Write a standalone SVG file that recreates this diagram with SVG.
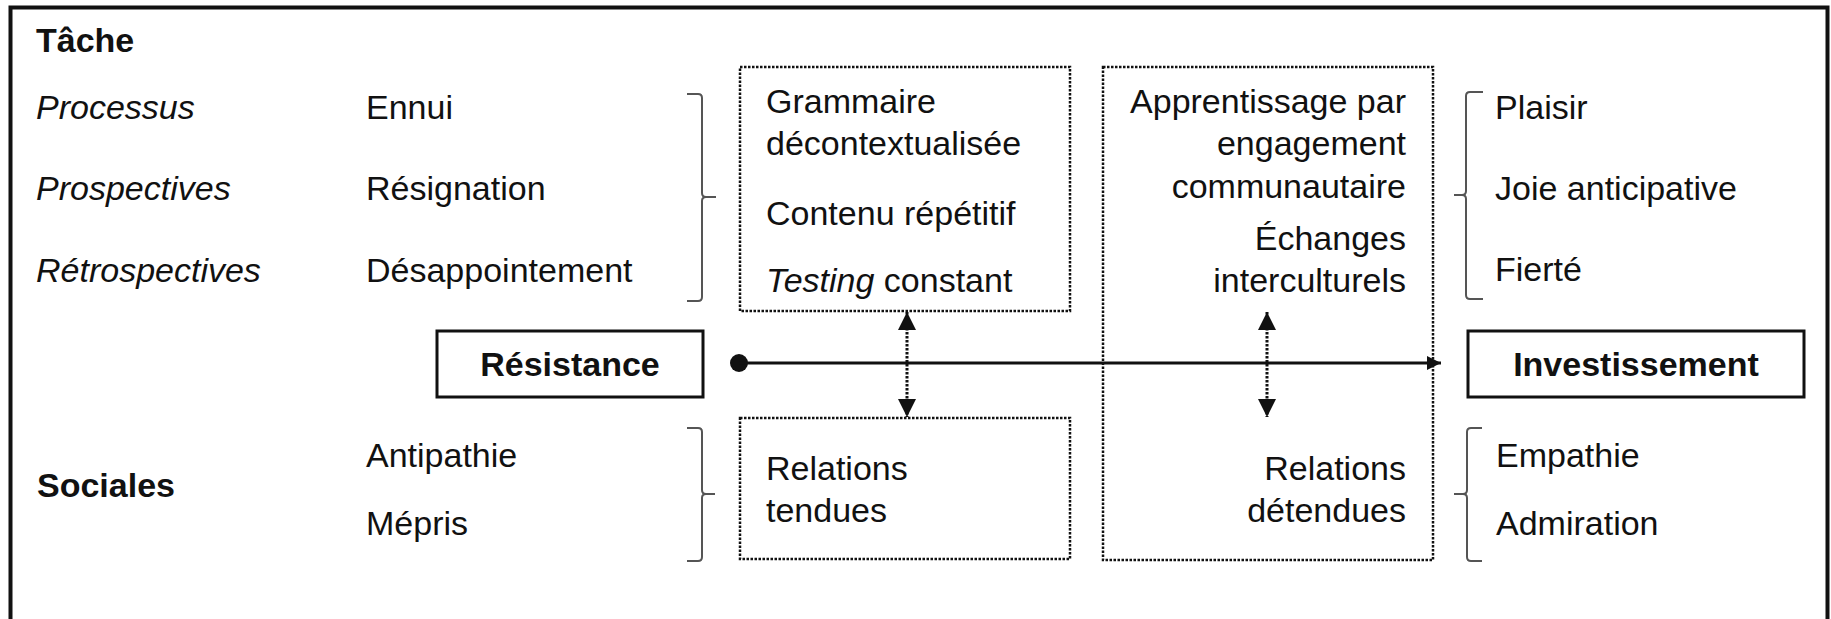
<svg xmlns="http://www.w3.org/2000/svg" width="1831" height="619" viewBox="0 0 1831 619">
<style>
text{font-family:"Liberation Sans",Arial,sans-serif;font-size:34px;fill:#111}
.b{font-weight:bold}
.i{font-style:italic}
.r{text-anchor:end}
.m{text-anchor:middle}
.dot{fill:none;stroke:#111;stroke-width:2.5;stroke-dasharray:2.5 1.5}
.box{fill:#fff;stroke:#111;stroke-width:3}
.br{fill:none;stroke:#555;stroke-width:2}
.ln{fill:none;stroke:#111;stroke-width:3}
.dl{fill:none;stroke:#111;stroke-width:3;stroke-dasharray:2.5 1.5}
</style>
<defs>
<marker id="ah" viewBox="0 0 10 10" refX="10" refY="5" markerWidth="18" markerHeight="14" markerUnits="userSpaceOnUse" orient="auto"><path d="M0,0 L10,5 L0,10 Z" fill="#111"/></marker>
<marker id="ah2" viewBox="0 0 10 10" refX="10" refY="5" markerWidth="19" markerHeight="18" markerUnits="userSpaceOnUse" orient="auto-start-reverse"><path d="M0,0 L10,5 L0,10 Z" fill="#111"/></marker>
</defs>
<rect width="1831" height="619" fill="#fff"/>
<path d="M10.5,619 V7.5 H1827.5 V619" fill="none" stroke="#111" stroke-width="4"/>

<g id="labels-left">
<text class="b" x="36" y="52">Tâche</text>
<text class="i" x="36" y="119">Processus</text>
<text class="i" x="36" y="200">Prospectives</text>
<text class="i" x="36" y="282">Rétrospectives</text>
<text class="b" x="37" y="497">Sociales</text>
</g>

<g id="neg-task">
<text x="366" y="119">Ennui</text>
<text x="366" y="200">Résignation</text>
<text x="366" y="282">Désappointement</text>
<path class="br" d="M687,94 H698 Q702,94 702,98 V193 Q702,197 706,197 H716 M706,197 Q702,197 702,201 V297 Q702,301 698,301 H687"/>
</g>

<g id="neg-social">
<text x="366" y="467">Antipathie</text>
<text x="366" y="535">Mépris</text>
<path class="br" d="M687,428 H698 Q702,428 702,432 V490 Q702,494 706,494 H715 M706,494 Q702,494 702,498 V557 Q702,561 698,561 H687"/>
</g>

<g id="box-task-neg">
<rect class="dot" x="740" y="67" width="330" height="244"/>
<text x="766" y="113">Grammaire</text>
<text x="766" y="155">décontextualisée</text>
<text x="766" y="225">Contenu répétitif</text>
<text x="766" y="292"><tspan class="i">Testing</tspan> constant</text>
</g>

<g id="box-social-neg">
<rect class="dot" x="740" y="418" width="330" height="141"/>
<text x="766" y="480">Relations</text>
<text x="766" y="522">tendues</text>
</g>

<g id="box-pos">
<rect class="dot" x="1103" y="67" width="330" height="493"/>
<text class="r" x="1406" y="113">Apprentissage par</text>
<text class="r" x="1406" y="155">engagement</text>
<text class="r" x="1406" y="198">communautaire</text>
<text class="r" x="1406" y="250">Échanges</text>
<text class="r" x="1406" y="292">interculturels</text>
<text class="r" x="1406" y="480">Relations</text>
<text class="r" x="1406" y="522">détendues</text>
</g>

<g id="pos-task">
<path class="br" d="M1483,92 H1470 Q1466,92 1466,96 V191 Q1466,195 1462,195 H1454 M1462,195 Q1466,195 1466,199 V295 Q1466,299 1470,299 H1483"/>
<text x="1495" y="119">Plaisir</text>
<text x="1495" y="200">Joie anticipative</text>
<text x="1495" y="281">Fierté</text>
</g>

<g id="pos-social">
<path class="br" d="M1482,428 H1471 Q1467,428 1467,432 V490 Q1467,494 1463,494 H1454 M1463,494 Q1467,494 1467,498 V557 Q1467,561 1471,561 H1482"/>
<text x="1496" y="467">Empathie</text>
<text x="1496" y="535">Admiration</text>
</g>

<g id="resistance">
<rect class="box" x="437" y="331" width="266" height="66"/>
<text class="b m" x="570" y="376">Résistance</text>
</g>

<g id="investissement">
<rect class="box" x="1468" y="331" width="336" height="66"/>
<text class="b m" x="1636" y="376">Investissement</text>
</g>

<g id="connectors">
<circle cx="739" cy="363" r="9" fill="#111"/>
<line class="ln" x1="739" y1="363" x2="1441" y2="363" marker-end="url(#ah)"/>
<line class="dl" x1="907" y1="312" x2="907" y2="417" marker-start="url(#ah2)" marker-end="url(#ah2)"/>
<line class="dl" x1="1267" y1="312" x2="1267" y2="417" marker-start="url(#ah2)" marker-end="url(#ah2)"/>
</g>
</svg>
